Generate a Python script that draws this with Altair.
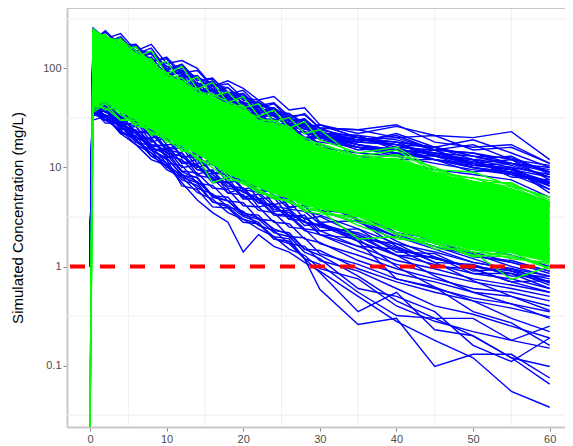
import altair as alt
import pandas as pd

# sampling times (days)
T = [0, 0.4, 2, 4, 6, 8, 10, 12, 14, 16, 18, 20, 22, 24, 26, 28, 30, 35, 40, 45, 50, 55, 60]

# blue simulated profiles (mg/L), one value per time in T
blue_01 = [1, 255, 200, 225, 150, 175, 112, 120, 100, 66, 75, 63, 48, 52, 38, 40, 27, 22, 26, 21, 20, 23, 12]
blue_02 = [1, 230, 170, 200, 130, 140, 95, 110, 75, 80, 55, 60, 42, 45, 33, 34, 25, 24, 27, 18, 16, 17, 11]
blue_03 = [1, 200, 190, 140, 165, 105, 115, 80, 85, 58, 64, 44, 46, 34, 35, 26, 27, 20, 18, 16, 19, 14, 10]
blue_04 = [1, 180, 215, 150, 150, 110, 95, 88, 66, 68, 50, 52, 36, 38, 30, 30, 21, 19, 21, 15, 14, 12, 9]
blue_05 = [1, 170, 140, 155, 110, 108, 80, 95, 60, 60, 46, 45, 34, 33, 26, 26, 20, 17, 15, 14, 12, 11, 8]
blue_06 = [1, 210, 150, 140, 115, 105, 75, 78, 56, 60, 42, 44, 32, 34, 25, 25, 19, 16, 14, 13, 11, 9.5, 7]
blue_07 = [1, 150, 150, 110, 120, 82, 80, 60, 62, 46, 48, 35, 36, 27, 28, 20, 20, 15, 16, 12, 10, 9, 6.5]
blue_08 = [1, 160, 120, 135, 92, 92, 66, 68, 50, 52, 38, 39, 28, 29, 22, 23, 16, 14, 13, 11, 9.5, 8.5, 6]
blue_09 = [1, 190, 160, 145, 105, 100, 72, 74, 60, 56, 40, 42, 30, 31, 23, 23, 17, 13, 12, 12, 9, 10, 5.5]
blue_10 = [1, 140, 130, 105, 102, 75, 76, 55, 56, 41, 43, 31, 31, 23, 24, 17, 17, 13, 11, 9.5, 8.5, 7.5, 5]
blue_11 = [1, 120, 100, 105, 78, 76, 55, 57, 41, 42, 30, 32, 23, 24, 17, 18, 13, 11, 9, 8, 7, 6, 4.5]
blue_12 = [1, 100, 105, 78, 82, 55, 57, 41, 44, 31, 33, 24, 24, 17, 18, 13, 13, 9.5, 8, 6.5, 5.5, 5, 4]
blue_13 = [1, 90, 72, 82, 57, 60, 41, 44, 31, 33, 24, 24, 17, 18, 13, 13, 10, 8, 6.5, 5.5, 4.5, 4, 3.5]
blue_14 = [1, 80, 82, 57, 60, 44, 44, 32, 33, 24, 24, 17, 18, 13, 13, 9.5, 9.5, 7, 5.5, 4.5, 4, 3.5, 3]
blue_15 = [1, 60, 50, 46, 33, 33, 22, 22, 15, 14, 10, 10, 7, 7, 5.2, 4.8, 3.6, 2.8, 2.0, 1.6, 1.3, 1.1, 0.9]
blue_16 = [1, 55, 52, 37, 35, 24, 23, 16, 15, 11, 10.5, 7.5, 7, 5.2, 4.8, 3.6, 3.3, 2.4, 1.7, 1.4, 1.1, 0.95, 0.8]
blue_17 = [1, 50, 42, 38, 27, 26, 17, 17, 12, 11, 8, 7.5, 5.5, 5.2, 3.8, 3.6, 2.7, 2.1, 1.5, 1.2, 1.0, 0.85, 0.7]
blue_18 = [1, 48, 46, 33, 30, 20, 20, 13, 12.5, 8.8, 8.5, 6, 5.6, 4.1, 3.8, 2.8, 2.6, 1.8, 1.3, 1.05, 0.85, 0.75, 0.6]
blue_19 = [1, 45, 36, 33, 23, 22, 15, 14, 9.5, 9.2, 6.5, 6.2, 4.4, 4.2, 3.0, 2.9, 2.1, 1.6, 1.15, 0.95, 0.75, 0.65, 0.55]
blue_20 = [1, 52, 42, 29, 26, 17, 16.5, 11, 10.8, 7.4, 7, 5, 4.7, 3.3, 3.2, 2.3, 2.1, 1.45, 1.05, 0.85, 0.7, 0.6, 0.5]
blue_21 = [1, 42, 33, 31, 20, 19.5, 13, 12, 8.3, 7.8, 5.5, 5.3, 3.7, 3.5, 2.5, 2.4, 1.7, 1.3, 0.95, 0.75, 0.6, 0.55, 0.45]
blue_22 = [1, 40, 37, 27, 23, 15.5, 14.5, 9.2, 8.8, 6.2, 6, 4.1, 4, 2.8, 2.7, 1.9, 1.75, 1.15, 0.85, 0.7, 0.55, 0.5, 0.4]
blue_23 = [1, 38, 30, 28.5, 18, 16.5, 11, 10.5, 6.9, 6.6, 4.6, 4.4, 3.0, 2.9, 2.0, 1.95, 1.35, 1.05, 0.75, 0.6, 0.48, 0.42, 0.35]
blue_24 = [1, 44, 33, 22, 21, 13, 12.5, 8.3, 8, 5.2, 5, 3.4, 3.3, 2.3, 2.2, 1.5, 1.45, 0.95, 0.7, 0.55, 0.45, 0.38, 0.31]
blue_25 = [1, 45, 42, 25, 24, 15, 12, 6.5, 6.0, 4.0, 3.9, 2.8, 2.7, 2.0, 1.9, 1.2, 0.59, 0.26, 0.30, 0.098, 0.13, 0.13, 0.075]
blue_26 = [1, 38, 32, 26, 19, 14, 11, 8, 7, 4.5, 4.2, 3.2, 2.8, 1.9, 1.8, 1.2, 0.87, 0.35, 0.55, 0.23, 0.2, 0.12, 0.065]
blue_27 = [1, 35, 34, 22, 17, 12, 10.5, 7, 4.7, 3.5, 2.8, 1.4, 2.1, 1.6, 1.4, 1.1, 0.9, 0.5, 0.28, 0.18, 0.12, 0.055, 0.038]
blue_28 = [1, 50, 38, 28, 23, 16, 13.5, 9, 7.8, 5, 4.6, 3.5, 3.1, 2.4, 2.1, 1.5, 1.3, 0.8, 0.45, 0.3, 0.2, 0.12, 0.098]
blue_29 = [1, 42, 37, 27, 22, 15, 12.5, 8.5, 7.2, 5.2, 4.6, 3.3, 3.0, 2.2, 2.0, 1.4, 1.2, 0.6, 0.5, 0.35, 0.16, 0.11, 0.19]
blue_30 = [1, 40, 30, 24, 17, 14, 9.5, 8, 5.6, 4.8, 3.5, 3, 2.4, 2, 1.5, 1.3, 0.95, 0.75, 0.4, 0.28, 0.22, 0.18, 0.15]
blue_31 = [1, 36, 33, 23, 19, 13, 10.5, 7.5, 6.6, 4.5, 4.0, 3, 2.7, 1.9, 1.7, 1.2, 1.05, 0.55, 0.32, 0.3, 0.3, 0.18, 0.25]
blue_32 = [1, 46, 32, 26, 18, 15, 10, 8.5, 6.2, 5.4, 4.0, 3.6, 2.6, 2.3, 1.7, 1.6, 1.15, 0.9, 0.6, 0.4, 0.33, 0.25, 0.19]
blue_33 = [1, 130, 160, 120, 130, 90, 95, 68, 72, 52, 54, 40, 40, 30, 30, 22, 21, 18, 22, 16, 13, 11, 9.5]
blue_34 = [1, 110, 120, 95, 100, 72, 74, 54, 56, 42, 43, 32, 33, 25, 25, 19, 18, 16, 13, 15, 11, 12, 7.5]
blue_35 = [1, 175, 135, 150, 100, 110, 78, 82, 58, 62, 45, 46, 34, 35, 26, 27, 20, 18, 17, 13, 12, 10, 8.5]
blue_36 = [1, 95, 90, 70, 72, 50, 52, 38, 38, 28, 28, 21, 21, 16, 16, 12, 12, 10, 8, 7, 6.2, 5.5, 4.2]
blue_37 = [1, 160, 170, 105, 125, 75, 90, 55, 68, 42, 52, 32, 37, 24, 28, 19, 23, 17, 15, 13.5, 10.5, 11, 9]
blue_38 = [1, 180, 130, 150, 95, 115, 72, 85, 58, 66, 44, 52, 35, 40, 27, 31, 22, 21, 19, 15, 14, 11, 10]
blue_39 = [1, 140, 160, 100, 120, 78, 90, 60, 68, 48, 52, 38, 42, 30, 33, 24, 27, 20, 18, 16, 12, 13, 8.5]
blue_40 = [1, 220, 160, 175, 120, 130, 85, 100, 66, 75, 52, 56, 40, 44, 31, 35, 25, 24, 20, 21, 15, 16, 11]
blue_41 = [1, 120, 135, 88, 100, 66, 76, 50, 58, 40, 45, 32, 34, 25, 27, 20, 21, 16, 15, 12, 11, 9, 7]
blue_42 = [1, 165, 120, 140, 88, 104, 66, 78, 52, 60, 40, 46, 32, 36, 25, 28, 20, 19, 17, 14, 13, 10.5, 8]
blue_43 = [1, 60, 48, 55, 36, 42, 27, 31, 20, 23, 15, 17, 11, 12.5, 8.5, 9, 6.2, 6.5, 4, 3.2, 2.3, 2.0, 1.5]
blue_44 = [1, 50, 55, 38, 44, 29, 33, 22, 25, 16, 18.5, 12, 13.5, 9, 10, 6.5, 7.2, 4.8, 3.5, 2.4, 2.0, 1.5, 1.3]
blue_45 = [1, 45, 38, 40, 28, 31, 20, 23, 15, 17, 11, 12.5, 8, 9.2, 6, 6.6, 4.4, 4.8, 3.0, 2.2, 1.6, 1.3, 1.0]
blue_46 = [1, 40, 45, 30, 34, 22, 25, 16, 18, 11.5, 13, 8.5, 9.5, 6.2, 7, 4.5, 5, 3.3, 2.6, 1.8, 1.4, 1.1, 0.85]
blue_47 = [1, 55, 40, 45, 30, 34, 22, 26, 16.5, 19, 12, 14, 9, 10, 6.5, 7.2, 4.7, 4.9, 3.3, 2.5, 1.8, 1.5, 1.2]
blue_48 = [1, 38, 42, 28, 32, 20, 23, 14.5, 16.5, 10.5, 12, 7.5, 8.5, 5.6, 6.2, 4, 4.5, 3.0, 2.0, 1.5, 1.1, 0.95, 0.7]
blue_49 = [1, 48, 36, 40, 26, 29, 19, 21, 13.5, 15, 10, 11, 7, 7.8, 5, 5.6, 3.6, 3.8, 2.6, 1.7, 1.35, 1.0, 0.8]
blue_50 = [1, 42, 46, 31, 35, 23, 26, 17, 19, 12.5, 14, 9, 10, 6.5, 7.3, 4.8, 5.3, 3.5, 2.2, 1.9, 1.25, 1.15, 0.9]
blue_51 = [1, 35, 30, 33, 22, 24, 15.5, 17, 11, 12, 7.8, 8.5, 5.5, 6, 3.9, 4.2, 2.8, 2.9, 1.8, 1.25, 0.95, 0.7, 0.55]
blue_52 = [1, 52, 40, 46, 30, 32, 21, 23, 15, 16, 10.5, 11.5, 7.4, 8, 5.2, 5.6, 3.7, 3.4, 2.1, 1.6, 1.2, 0.9, 0.65]
blue_53 = [1, 150, 120, 130, 95, 100, 72, 78, 55, 60, 42, 46, 33, 36, 26, 28, 21, 20, 17, 16, 13, 12.5, 9]
blue_54 = [1, 110, 125, 85, 95, 65, 72, 50, 55, 38, 42, 30, 32, 24, 25, 19, 20, 16, 14, 12, 10.5, 9.5, 7.2]
blue_55 = [1, 200, 150, 165, 115, 125, 85, 92, 64, 70, 48, 52, 37, 40, 29, 31, 23, 19, 20, 15, 17, 12, 10.5]
blue_56 = [1, 130, 140, 98, 108, 74, 80, 56, 60, 43, 46, 33, 35, 26, 27, 20, 21, 17, 13.5, 13, 10, 8.8, 6.8]
blue_57 = [1, 40, 33, 35, 22, 24, 15, 16, 10, 11, 7, 7.5, 4.8, 5, 3.2, 3.3, 2.1, 1.9, 1.0, 0.62, 0.45, 0.3, 0.22]
blue_58 = [1, 36, 40, 26, 29, 18, 20, 12.5, 14, 8.6, 9.5, 6, 6.6, 4.2, 4.6, 3.0, 3.2, 2.1, 1.3, 0.8, 0.55, 0.42, 0.3]
blue_59 = [1, 48, 38, 42, 27, 30, 19, 20, 12.5, 13.5, 8.5, 9, 5.8, 6.1, 4, 4.1, 2.8, 1.8, 0.75, 0.62, 0.35, 0.27, 0.16]
blue_60 = [1, 44, 48, 32, 36, 24, 26, 17, 18.5, 12, 13, 8.4, 9, 6, 6.3, 4.2, 4.4, 2.9, 1.6, 1.1, 0.72, 0.5, 0.36]
blue_61 = [1, 190, 240, 170, 175, 120, 125, 85, 80, 62, 58, 45, 42, 33, 28, 23, 21, 17, 14, 12, 10, 8.5, 7]
blue_62 = [1, 170, 190, 200, 150, 140, 100, 105, 70, 72, 55, 52, 38, 38, 30, 26, 22, 19, 18, 13, 11.5, 9.5, 8]
blue_63 = [1, 230, 180, 210, 140, 160, 98, 110, 76, 78, 58, 54, 42, 40, 32, 27, 24, 20, 16, 15, 10.5, 10, 6.5]
blue_64 = [1, 150, 200, 160, 170, 115, 130, 90, 95, 66, 70, 50, 48, 37, 35, 28, 25, 18, 17, 13, 12, 8, 7.5]
blue_65 = [1, 210, 230, 175, 150, 145, 105, 95, 82, 68, 64, 48, 45, 38, 31, 28, 22, 21, 15, 14, 11, 9.5, 6]
blue_66 = [1, 36, 34, 27, 22, 19, 14, 13, 9.5, 8.5, 6.2, 5.8, 4.4, 4.0, 3.3, 3.1, 2.5, 2.2, 1.55, 1.2, 1.0, 0.9, 0.75]
blue_67 = [1, 42, 30, 30, 19, 20, 12.5, 14, 8.5, 9.5, 5.5, 6.2, 4.0, 4.3, 3.0, 3.3, 2.3, 2.4, 1.4, 1.35, 0.9, 0.95, 0.68]
blue_68 = [1, 33, 38, 24, 26, 16, 17, 11, 12, 7.5, 7.8, 5, 5.4, 3.6, 3.7, 2.6, 2.7, 1.9, 1.7, 1.1, 1.05, 0.8, 0.8]
blue_69 = [1, 38, 28, 28, 20, 17, 15, 11.5, 10.5, 8, 7, 5.6, 4.9, 3.8, 3.5, 2.8, 2.6, 2.0, 1.3, 1.25, 0.85, 0.85, 0.6]
blue_70 = [1, 30, 33, 22, 23, 15, 15.5, 10, 10.5, 7, 7.2, 4.8, 4.8, 3.4, 3.3, 2.4, 2.3, 1.6, 1.5, 1.0, 0.95, 0.7, 0.72]

# green profiles (edges of the green band); first value is below the axis (0 conc.)
green_01 = [0.001, 250, 200, 195, 150, 120, 85, 80, 58, 55, 46, 40, 30, 30, 24, 20, 17, 13, 15, 9, 7.8, 6.8, 4.7]
green_02 = [0.001, 230, 215, 170, 140, 110, 90, 68, 62, 48, 44, 38, 32, 28, 26, 19, 16, 12.5, 12, 9.5, 7.2, 6.4, 4.4]
green_03 = [0.001, 210, 180, 190, 125, 125, 78, 75, 55, 50, 42, 42, 28, 27, 25, 18, 17.5, 13, 13, 8.8, 7.8, 6, 4.2]
green_04 = [0.001, 38, 46, 34, 28, 23, 19, 15, 13, 7, 8, 7, 5.5, 5.2, 4.4, 4, 3.7, 1.9, 2.0, 1.6, 1.4, 0.74, 1.0]
green_05 = [0.001, 42, 40, 30, 30, 22, 20, 16, 12.5, 10, 7.5, 7.2, 6, 5, 4.5, 3.8, 3.6, 3.0, 2.2, 1.7, 1.3, 1.25, 1.05]
green_06 = [0.001, 40, 48, 36, 26, 25, 18, 17, 12, 11, 8.2, 6.8, 5.8, 4.8, 4.7, 3.6, 3.4, 3.2, 2.1, 1.8, 1.4, 1.3, 0.95]
green_07 = [0.001, 240, 175, 200, 130, 150, 88, 105, 62, 72, 45, 52, 33, 38, 25, 29, 19, 14, 16, 9.5, 9, 6.5, 5]
green_08 = [0.001, 200, 220, 150, 165, 105, 118, 70, 82, 52, 58, 40, 44, 29, 32, 22, 24, 12, 13.5, 10, 7, 7, 4.5]
green_09 = [0.001, 45, 38, 42, 27, 30, 20, 21, 14, 15, 9.5, 10, 6.8, 7, 4.8, 5, 3.6, 2.8, 2.4, 1.5, 1.5, 1.2, 1.1]
green_10 = [0.001, 36, 44, 30, 33, 21, 24, 14.5, 16.5, 10.5, 11.5, 7, 7.8, 5, 5.4, 3.7, 3.9, 2.6, 1.9, 1.75, 1.25, 1.4, 0.95]

# dense green band envelope at T[1:]
green_hi = [245, 210, 185, 145, 118, 84, 76, 57, 53, 44, 39, 30, 28, 24, 19, 16.5, 12.5, 12.5, 8.8, 7.4, 6.2, 4.4]
green_lo = [40, 47, 36, 30, 24, 20, 16.5, 13.5, 11, 8.5, 7.4, 6.2, 5.4, 4.8, 4.1, 3.8, 3.2, 2.3, 1.8, 1.45, 1.35, 1.1]

x_ticks = [0, 10, 20, 30, 40, 50, 60]
y_ticks = [0.1, 1, 10, 100]
x_minor = [5, 15, 25, 35, 45, 55]
y_minor = [0.0316, 0.316, 3.16, 31.6, 316]
threshold = [1]

blue_lines = [blue_01, blue_02, blue_03, blue_04, blue_05, blue_06, blue_07, blue_08, blue_09,
              blue_10, blue_11, blue_12, blue_13, blue_14, blue_15, blue_16, blue_17, blue_18,
              blue_19, blue_20, blue_21, blue_22, blue_23, blue_24, blue_25, blue_26, blue_27,
              blue_28, blue_29, blue_30, blue_31, blue_32, blue_33, blue_34, blue_35, blue_36,
              blue_37, blue_38, blue_39, blue_40, blue_41, blue_42, blue_43, blue_44, blue_45,
              blue_46, blue_47, blue_48, blue_49, blue_50, blue_51, blue_52, blue_53, blue_54,
              blue_55, blue_56, blue_57, blue_58, blue_59, blue_60, blue_61, blue_62, blue_63,
              blue_64, blue_65, blue_66, blue_67, blue_68, blue_69, blue_70]
green_lines = [green_01, green_02, green_03, green_04, green_05, green_06, green_07, green_08,
               green_09, green_10]

def long_df(lines):
    rows = []
    for i, vals in enumerate(lines):
        assert len(vals) == len(T), (i, len(vals))
        for t, v in zip(T, vals):
            rows.append({"id": i, "t": t, "c": v})
    return pd.DataFrame(rows)

df_blue = long_df(blue_lines)
df_green = long_df(green_lines)
df_band = pd.DataFrame({"t": T[1:], "hi": green_hi, "lo": green_lo})

FONT = "Liberation Sans"
BORDER = "#C8C8C8"

xs = alt.Scale(domain=[-3, 62], nice=False, zero=False)
ys = alt.Scale(type="log", domain=[0.024, 407], nice=False, clamp=True)

x_axis = alt.Axis(values=x_ticks, title=None, grid=False, domain=True, domainColor=BORDER,
                  domainWidth=2, tickColor="#8A8A8A", tickSize=4, tickWidth=1,
                  labelFont=FONT, labelFontSize=11, labelColor="#4D4D4D", labelPadding=2,
                  labelFlush=False, format="d")
y_axis = alt.Axis(values=y_ticks, format="~g", title="Simulated Concentration (mg/L)",
                  titleFont=FONT, titleFontSize=15, titleFontWeight="normal", titleColor="#000000",
                  titleX=-50, titleY=209.5, titleAlign="center", titleBaseline="middle", titleAngle=270,
                  grid=False, domain=True, domainColor=BORDER, domainWidth=2,
                  tickColor="#8A8A8A", tickSize=4, tickWidth=1,
                  labelFont=FONT, labelFontSize=11, labelColor="#4D4D4D", labelPadding=2)

grid_x = alt.Chart(pd.DataFrame({"t": x_minor})).mark_rule(color="#EFEFEF", strokeWidth=1).encode(
    x=alt.X("t:Q", scale=xs, axis=x_axis))
grid_y = alt.Chart(pd.DataFrame({"c": y_minor})).mark_rule(color="#EFEFEF", strokeWidth=1).encode(
    y=alt.Y("c:Q", scale=ys, axis=y_axis))

blue = alt.Chart(df_blue).mark_line(color="#0000FF", strokeWidth=1.4, clip=True).encode(
    x=alt.X("t:Q", scale=xs, axis=x_axis),
    y=alt.Y("c:Q", scale=ys, axis=y_axis),
    detail="id:N")

band = alt.Chart(df_band).mark_area(color="#00FF00", opacity=1, clip=True).encode(
    x=alt.X("t:Q", scale=xs, axis=x_axis),
    y=alt.Y("hi:Q", scale=ys, axis=y_axis),
    y2="lo:Q")

green = alt.Chart(df_green).mark_line(color="#00FF00", strokeWidth=1.4, clip=True).encode(
    x=alt.X("t:Q", scale=xs, axis=x_axis),
    y=alt.Y("c:Q", scale=ys, axis=y_axis),
    detail="id:N")

red = alt.Chart(pd.DataFrame({"c": threshold})).mark_rule(
    color="#FF0000", strokeWidth=4, strokeDash=[15, 15]).encode(
    y=alt.Y("c:Q", scale=ys, axis=y_axis))

top_border = alt.Chart(pd.DataFrame({"a": [0]})).mark_rule(color=BORDER, strokeWidth=2).encode(
    y=alt.value(0))

chart = alt.layer(grid_x, grid_y, blue, band, green, red, top_border).properties(
    width=498, height=419,
    autosize=alt.AutoSizeParams(type="none"),
    padding={"left": 59, "top": 0, "right": 0, "bottom": 19},
    background="white",
).configure_view(stroke=None)

chart.save("out.html", embed_options={"renderer": "svg", "actions": False})
